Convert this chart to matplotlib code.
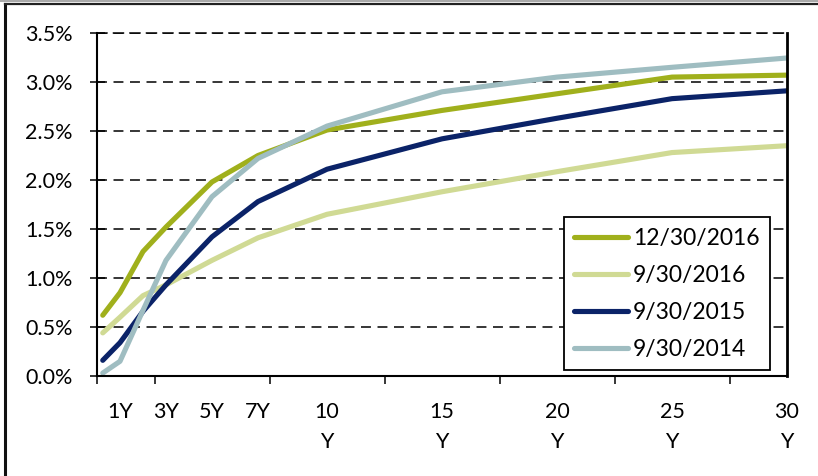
import numpy as np
import matplotlib
matplotlib.use("Agg")
import matplotlib.pyplot as plt
from matplotlib.lines import Line2D
from matplotlib.ticker import FuncFormatter, FixedLocator

plt.rcParams["font.family"] = ["Lato", "DejaVu Sans"]

# maturities in years
maturity = [0.25, 1, 2, 3, 5, 7, 10, 15, 20, 25, 30]

curve_2016_12 = [0.62, 0.85, 1.27, 1.52, 1.98, 2.25, 2.51, 2.71, 2.88, 3.05, 3.07]
curve_2016_09 = [0.44, 0.60, 0.82, 0.93, 1.18, 1.41, 1.65, 1.88, 2.085, 2.28, 2.35]
curve_2015_09 = [0.16, 0.34, 0.66, 0.93, 1.42, 1.78, 2.11, 2.42, 2.63, 2.83, 2.91]
curve_2014_09 = [0.03, 0.15, 0.67, 1.18, 1.83, 2.22, 2.55, 2.90, 3.05, 3.15, 3.245]

series_labels = ["12/30/2016", "9/30/2016", "9/30/2015", "9/30/2014"]
series_colors = ["#A0B01C", "#D0DA94", "#0B2368", "#9FBDC1"]

tick_pos = [1, 3, 5, 7, 10, 15, 20, 25, 30]
tick_labels = ["1Y", "3Y", "5Y", "7Y", "10\nY", "15\nY", "20\nY", "25\nY", "30\nY"]

W, H = 818, 476
fig = plt.figure(figsize=(W / 100, H / 100), dpi=100)
ax = fig.add_axes([97 / W, 1 - 376 / H, 690 / W, 343 / H])

for vals, lab, col in zip([curve_2016_12, curve_2016_09, curve_2015_09, curve_2014_09],
                          series_labels, series_colors):
    ax.plot(maturity, vals, color=col, lw=3.7, label=lab,
            solid_joinstyle="round", solid_capstyle="round")

ax.set_xlim(0, 30)
ax.set_ylim(0, 3.5)

# y axis
ax.set_yticks(np.arange(0, 3.51, 0.5))
ax.yaxis.set_major_formatter(FuncFormatter(lambda v, p: f"{v:.1f}%"))
ax.tick_params(axis="y", direction="inout", length=10.8, width=1.1, pad=12,
               labelsize=15.5, colors="black")
ax.yaxis.grid(True, linestyle=(0, (6.5, 4.3)), color="black", lw=1.1)
ax.set_axisbelow(True)

# x axis: tick marks every 2.5y, labels at maturities
ax.xaxis.set_major_locator(FixedLocator(tick_pos))
ax.set_xticklabels(tick_labels, linespacing=1.6)
ax.xaxis.set_minor_locator(FixedLocator(np.arange(0, 30.1, 2.5)))
ax.tick_params(axis="x", which="major", length=0, pad=19, labelsize=15.5)
ax.tick_params(axis="x", which="minor", direction="out", length=5.8, width=1.1)
for t in ax.get_xticklabels():
    t.set_verticalalignment("top")

for s in ["left", "bottom"]:
    ax.spines[s].set_linewidth(1.5)
ax.spines["right"].set_linewidth(2.0)
ax.spines["top"].set_linestyle((0, (6.5, 4.3)))
ax.spines["top"].set_linewidth(1.1)

leg = ax.legend(loc="lower right", bbox_to_anchor=(0.975, 0.0175),
                borderaxespad=0, fontsize=16.5, handlelength=2.35,
                handletextpad=0.2, labelspacing=0.7, borderpad=0.45,
                fancybox=False, framealpha=1, edgecolor="black")
leg.get_frame().set_linewidth(1.3)

# outer frame (left and top)
fig.add_artist(Line2D([4.5 / W, 4.5 / W], [0, 1 - 3.5 / H], transform=fig.transFigure,
                      color="#111111", lw=2.2))
fig.add_artist(Line2D([4.5 / W, 1], [1 - 3.5 / H, 1 - 3.5 / H], transform=fig.transFigure,
                      color="#222222", lw=1.6))
fig.add_artist(Line2D([0, 1], [1 - 1 / H, 1 - 1 / H], transform=fig.transFigure,
                      color="#999999", lw=1.2))

fig.savefig("out.png", dpi=100)
